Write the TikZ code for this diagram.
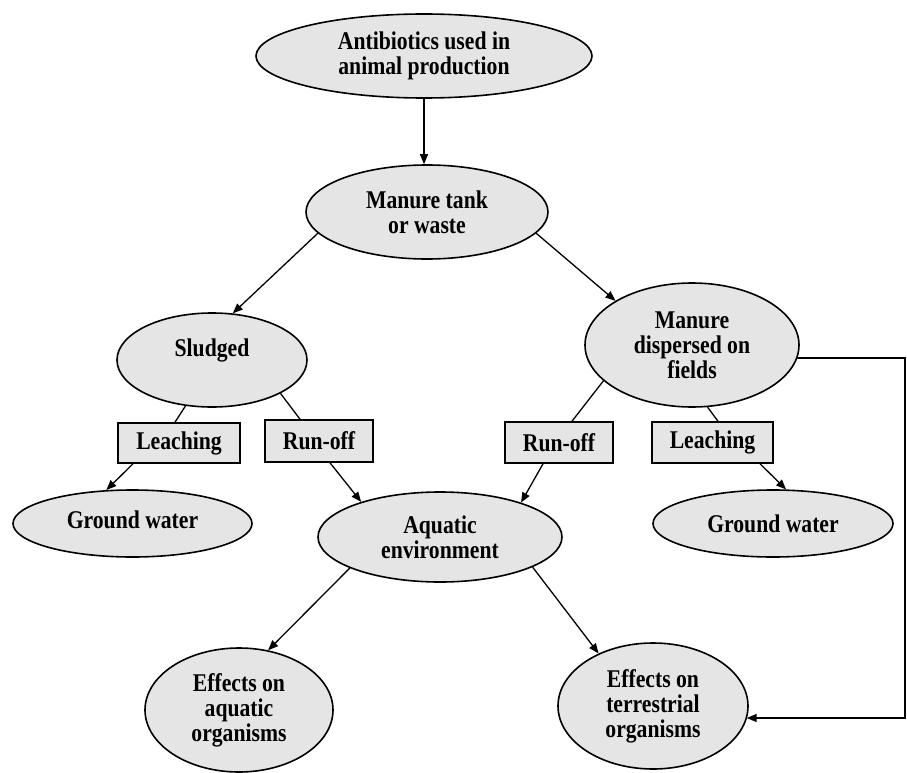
\documentclass[tikz,border=0pt]{standalone}
\usepackage{fontspec}
\setmainfont{Liberation Serif}[FakeStretch=0.85]
\usetikzlibrary{shapes.geometric,arrows.meta}
\begin{document}
\begin{tikzpicture}[x=1pt,y=-1pt,
  oval/.style={ellipse,draw=black,line width=1.6pt,fill=black!10,inner sep=0pt,align=center,
    font=\fontsize{25.5}{25}\selectfont\bfseries},
  boxn/.style={rectangle,draw=black,line width=1.6pt,fill=black!10,inner sep=0pt,
    font=\fontsize{25.5}{25}\selectfont\bfseries},
  conn/.style={line width=1.3pt,draw=black},
  arr/.style={conn,-{Triangle[length=10pt,width=8pt]}}]
\useasboundingbox (0,0) rectangle (907,773);

% ellipses
\node[oval,minimum width=336pt,minimum height=84pt] (top) at (424,56) {Antibiotics used in\\animal production};
\node[oval,minimum width=242pt,minimum height=94pt] (tank) at (427,212) {Manure tank\\or waste};
\node[oval,minimum width=190pt,minimum height=94pt] (sl) at (212,360) {Sludged\\\mbox{}};
\node[oval,minimum width=214pt,minimum height=124pt] (disp) at (692,345) {Manure\\dispersed on\\fields};
\node[oval,minimum width=239pt,minimum height=67pt] (gwl) at (132.5,523.5) {Ground water\\[-18pt]\mbox{}};
\node[oval,minimum width=240pt,minimum height=67pt] (gwr) at (773,523.5) {Ground water};
\node[oval,minimum width=244pt,minimum height=90pt] (aq) at (440,537) {Aquatic\\environment};
\node[oval,minimum width=188pt,minimum height=124pt] (ea) at (239,710) {Effects on\\aquatic\\organisms};
\node[oval,minimum width=190pt,minimum height=126pt] (et) at (653,706) {Effects on\\terrestrial\\organisms};

% boxes
\node[boxn,minimum width=122pt,minimum height=40pt] (lleach) at (179,443) {Leaching};
\node[boxn,minimum width=108pt,minimum height=42pt] (lrun) at (319,441) {Run-off};
\node[boxn,minimum width=108pt,minimum height=41pt] (rrun) at (559,442.5) {Run-off};
\node[boxn,minimum width=121pt,minimum height=41pt] (rleach) at (712.5,442.5) {Leaching};

% connectors
\draw[arr] (top.south) -- (top.south |- tank.north);
\draw[arr] (tank.191) -- (sl.66);
\draw[arr] (tank.349) -- (disp.150);

\draw[conn] (sl.240) -- ([xshift=-4pt]lleach.north);
\draw[conn] (sl.334) -- ([xshift=-19pt]lrun.north);
\draw[conn] (disp.202) -- ([xshift=13pt]rrun.north);
\draw[conn] (disp.284) -- ([xshift=5.5pt]rleach.north);

\draw[arr] ([xshift=-46pt]lleach.south) -- (gwl.128);
\draw[arr] ([xshift=11pt]lrun.south) -- (aq.156);
\draw[arr] ([xshift=-16pt]rrun.south) -- (aq.23);
\draw[arr] ([xshift=47.5pt]rleach.south) -- (gwr.69);

\draw[arr] (aq.199.5) -- (ea.64);
\draw[arr] (aq.342) -- (et.136);

\coordinate (c1) at (905,357);
\coordinate (c2) at (905,718);
\draw[arr] (disp.353) -- (disp.353 -| c1) -- (c2) -- (c2 -| et.352);
\end{tikzpicture}
\end{document}
